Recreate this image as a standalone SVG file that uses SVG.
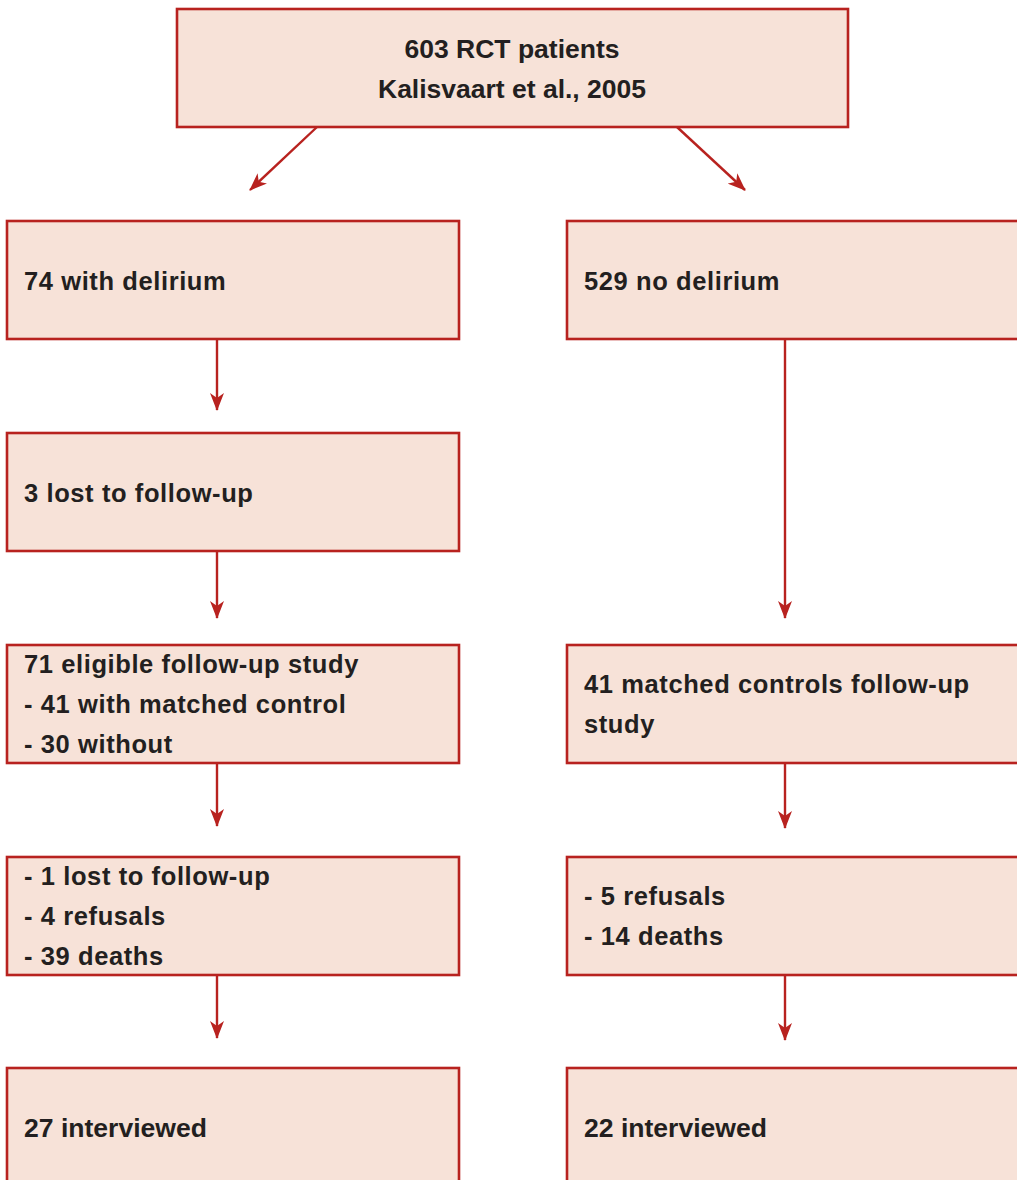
<svg xmlns="http://www.w3.org/2000/svg" width="1017" height="1180" viewBox="0 0 1017 1180">
<style>
.box{fill:#F7E2D8;stroke:#B8221F;stroke-width:2.6}
.t{font-family:"Liberation Sans",Arial,sans-serif;font-weight:bold;font-size:25.5px;fill:#231F20;letter-spacing:0.6px}
.n{font-family:"Liberation Sans",Arial,sans-serif;font-weight:bold;font-size:25.5px;fill:#231F20}
.c{stroke:#B8221F;stroke-width:2.4;fill:none}
</style>
<defs>
<marker id="ah" viewBox="0 0 18 14" refX="17" refY="7" markerWidth="18" markerHeight="14" markerUnits="userSpaceOnUse" orient="auto">
<path d="M0,0 L18,7 L0,14 L5,7 z" fill="#B8221F"/>
</marker>
</defs>
<g id="connectors">
<line class="c" x1="317" y1="127" x2="250" y2="190" marker-end="url(#ah)"/>
<line class="c" x1="677" y1="127" x2="745" y2="190" marker-end="url(#ah)"/>
<line class="c" x1="217" y1="339" x2="217" y2="410" marker-end="url(#ah)"/>
<line class="c" x1="217" y1="551" x2="217" y2="618" marker-end="url(#ah)"/>
<line class="c" x1="217" y1="763" x2="217" y2="826" marker-end="url(#ah)"/>
<line class="c" x1="217" y1="975" x2="217" y2="1038" marker-end="url(#ah)"/>
<line class="c" x1="785" y1="339" x2="785" y2="618" marker-end="url(#ah)"/>
<line class="c" x1="785" y1="763" x2="785" y2="828" marker-end="url(#ah)"/>
<line class="c" x1="785" y1="975" x2="785" y2="1040" marker-end="url(#ah)"/>
</g>
<g id="n-top">
<rect class="box" x="177" y="9" width="671" height="118"/>
<text class="n" x="512" y="58" text-anchor="middle" textLength="215" lengthAdjust="spacingAndGlyphs">603 RCT patients</text>
<text class="n" x="512" y="98" text-anchor="middle" textLength="268" lengthAdjust="spacingAndGlyphs">Kalisvaart et al., 2005</text>
</g>
<g id="n-delirium">
<rect class="box" x="7" y="221" width="452" height="118"/>
<text class="t" x="24" y="290">74 with delirium</text>
</g>
<g id="n-nodelirium">
<rect class="box" x="567" y="221" width="470" height="118"/>
<text class="t" x="584" y="290">529 no delirium</text>
</g>
<g id="n-lost">
<rect class="box" x="7" y="433" width="452" height="118"/>
<text class="t" x="24" y="502">3 lost to follow-up</text>
</g>
<g id="n-eligible">
<rect class="box" x="7" y="645" width="452" height="118"/>
<text class="t" x="24" y="673">71 eligible follow-up study</text>
<text class="t" x="24" y="713">- 41 with matched control</text>
<text class="t" x="24" y="753">- 30 without</text>
</g>
<g id="n-controls">
<rect class="box" x="567" y="645" width="470" height="118"/>
<text class="t" x="584" y="693">41 matched controls follow-up</text>
<text class="t" x="584" y="733">study</text>
</g>
<g id="n-excl-left">
<rect class="box" x="7" y="857" width="452" height="118"/>
<text class="t" x="24" y="885">- 1 lost to follow-up</text>
<text class="t" x="24" y="925">- 4 refusals</text>
<text class="t" x="24" y="965">- 39 deaths</text>
</g>
<g id="n-excl-right">
<rect class="box" x="567" y="857" width="470" height="118"/>
<text class="t" x="584" y="905">- 5 refusals</text>
<text class="t" x="584" y="945">- 14 deaths</text>
</g>
<g id="n-int-left">
<rect class="box" x="7" y="1068" width="452" height="130"/>
<text class="n" x="24" y="1137" textLength="183" lengthAdjust="spacingAndGlyphs">27 interviewed</text>
</g>
<g id="n-int-right">
<rect class="box" x="567" y="1068" width="470" height="130"/>
<text class="n" x="584" y="1137" textLength="183" lengthAdjust="spacingAndGlyphs">22 interviewed</text>
</g>
</svg>
